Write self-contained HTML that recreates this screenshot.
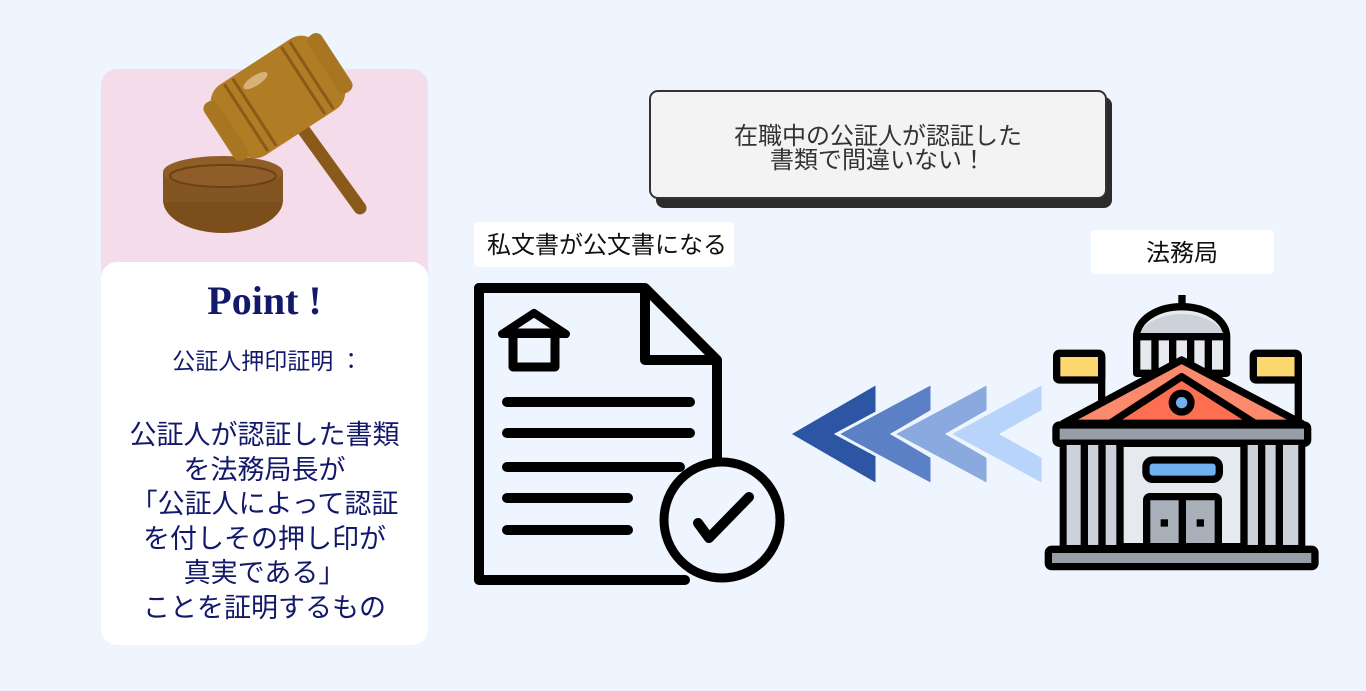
<!DOCTYPE html>
<html><head><meta charset="utf-8"><style>
*{margin:0;padding:0;box-sizing:border-box}
body{width:1366px;height:691px;background:#eef5fe;position:relative;overflow:hidden;font-family:"Liberation Sans","Noto Sans CJK JP",sans-serif}
.abs{position:absolute}
</style></head><body>
<div class="abs" style="left:101px;top:69px;width:327px;height:220px;background:#f5dcea;border-radius:16px 16px 0 0"></div>
<div class="abs" style="left:101px;top:262px;width:327px;height:383px;background:#fff;border-radius:16px"></div>
<div class="abs" style="left:101px;top:278px;width:327px;text-align:center;color:#12196a;font-family:'Liberation Serif',serif;font-weight:bold;font-size:40px;line-height:46px">Point !</div>
<div class="abs" style="left:104px;top:345px;width:327px;text-align:center;color:#12196a;font-size:23px;line-height:32px">公証人押印証明 ：</div>
<div class="abs" style="left:101px;top:418px;width:327px;text-align:center;color:#12196a;font-size:27px;line-height:34.5px;white-space:nowrap">公証人が認証した書類<br>を法務局長が<br>「公証人によって認証<br>を付しその押し印が<br>真実である」<br>ことを証明するもの</div>

<svg class="abs" style="left:0;top:0" width="1366" height="691">
<g>
<ellipse cx="223" cy="200" rx="60" ry="33" fill="#7c4e1c"/>
<rect x="163" y="172" width="120" height="30" fill="#835520"/>
<ellipse cx="223" cy="172" rx="60" ry="16" fill="#8f5e28"/>
<ellipse cx="223" cy="176" rx="53" ry="11" fill="none" stroke="#6b4216" stroke-width="2"/>
<line x1="300" y1="125" x2="360" y2="208" stroke="#8a5a1a" stroke-width="13" stroke-linecap="round"/>
<g transform="translate(278,97) rotate(-33)">
<rect x="-62" y="-42" width="124" height="84" rx="20" fill="#b07c24"/>
<rect x="-70" y="-34" width="16" height="68" rx="7" fill="#a87520"/>
<rect x="54" y="-34" width="16" height="68" rx="7" fill="#a87520"/>
<line x1="-38" y1="-40" x2="-38" y2="40" stroke="#8a5a18" stroke-width="3"/>
<line x1="-28" y1="-40" x2="-28" y2="40" stroke="#8a5a18" stroke-width="3"/>
<line x1="30" y1="-40" x2="30" y2="40" stroke="#8a5a18" stroke-width="3"/>
<line x1="40" y1="-40" x2="40" y2="40" stroke="#8a5a18" stroke-width="3"/>
<ellipse cx="-10" cy="-26" rx="14" ry="5" fill="#d8b07a"/>
</g>
</g>

<rect x="656" y="97" width="456" height="111" rx="8" fill="#2b2b2b"/>
<rect x="650" y="91" width="456" height="107" rx="8" fill="#f3f3f3" stroke="#333" stroke-width="2"/>
<text x="878" y="144" text-anchor="middle" font-size="24" fill="#333" font-family="Liberation Sans, Noto Sans CJK JP, sans-serif">在職中の公証人が認証した</text>
<text x="878" y="168" text-anchor="middle" font-size="24" fill="#333" font-family="Liberation Sans, Noto Sans CJK JP, sans-serif">書類で間違いない！</text>

<rect x="474" y="222" width="260" height="45" rx="4" fill="#fff"/>
<text x="607" y="253" text-anchor="middle" font-size="24" fill="#111" font-family="Liberation Sans, Noto Sans CJK JP, sans-serif">私文書が公文書になる</text>
<rect x="1091" y="230" width="183" height="44" rx="4" fill="#fff"/>
<text x="1182" y="261" text-anchor="middle" font-size="24" fill="#111" font-family="Liberation Sans, Noto Sans CJK JP, sans-serif">法務局</text>

<g fill="none" stroke="#000" stroke-width="10" stroke-linejoin="round" stroke-linecap="round">
<path d="M479 288 H645 L717 360 V460"/>
<path d="M479 288 V580 H685"/>
<path d="M645 292 V360 H713"/>
<path d="M502 334 L534 313 L566 334 Z" stroke-width="8"/>
<rect x="513" y="333" width="42" height="34" stroke-width="9"/>
<line x1="507" y1="402" x2="690" y2="402"/>
<line x1="507" y1="433" x2="690" y2="433"/>
<line x1="507" y1="467" x2="680" y2="467"/>
<line x1="507" y1="498" x2="628" y2="498"/>
<line x1="507" y1="530" x2="628" y2="530"/>
</g>
<circle cx="722" cy="520" r="58" fill="#eef5fe" stroke="#000" stroke-width="9"/>
<path d="M698 523 L709 538 L749 497" fill="none" stroke="#000" stroke-width="10" stroke-linecap="round" stroke-linejoin="round"/>

<g stroke="#eef5fe" stroke-width="3">
<polygon points="789,434 877,383 877,485" fill="#2c55a3"/>
<polygon points="837,434 932,383 932,411 893,434 932,457 932,485" fill="#5b80c5"/>
<polygon points="893,434 988,383 988,411 948,434 988,457 988,485" fill="#8aa9df"/>
<polygon points="949,434 1043,383 1043,411 1002,434 1043,457 1043,485" fill="#b8d4fb"/>
</g>

<g transform="translate(1040,290) scale(0.3333)" stroke="#000" stroke-width="22" stroke-linejoin="round">
<rect x="415" y="15" width="22" height="45" fill="#000" stroke="none"/>
<path d="M290 250 V140 A135 90 0 0 1 560 140 V250 Z" fill="#e6e9ee"/>
<path d="M300 130 A130 80 0 0 1 550 130 Z" fill="#cdd2da" stroke="none"/>
<line x1="290" y1="140" x2="560" y2="140"/>
<line x1="345" y1="140" x2="345" y2="240"/><line x1="398" y1="140" x2="398" y2="220"/><line x1="452" y1="140" x2="452" y2="220"/><line x1="505" y1="140" x2="505" y2="240"/>
<rect x="50" y="190" width="135" height="80" rx="8" fill="#fcd770"/>
<line x1="185" y1="200" x2="185" y2="400"/>
<rect x="640" y="190" width="135" height="80" rx="8" fill="#fcd770"/>
<line x1="775" y1="200" x2="775" y2="400"/>
<path d="M70 400 L425 210 L785 400 Z" fill="#fb8a6c"/>
<path d="M210 400 L425 260 L645 400 Z" fill="#fc6f50"/>
<circle cx="425" cy="338" r="28" fill="#6fb1ef"/>
<rect x="48" y="405" width="755" height="55" rx="10" fill="#979ea8"/>
<rect x="70" y="460" width="715" height="310" fill="#e6e9ee"/>
<rect x="80" y="465" width="170" height="300" fill="#cdd2da" stroke="none"/>
<rect x="605" y="465" width="170" height="300" fill="#cdd2da" stroke="none"/>
<line x1="133" y1="460" x2="133" y2="770"/><line x1="186" y1="460" x2="186" y2="770"/><line x1="240" y1="460" x2="240" y2="770"/>
<line x1="612" y1="460" x2="612" y2="770"/><line x1="665" y1="460" x2="665" y2="770"/><line x1="718" y1="460" x2="718" y2="770"/>
<rect x="318" y="510" width="220" height="58" rx="20" fill="#6fb1ef"/>
<rect x="320" y="620" width="215" height="150" rx="10" fill="#a9b0ba"/>
<line x1="427" y1="620" x2="427" y2="770"/>
<rect x="362" y="688" width="22" height="22" fill="#000" stroke="none"/>
<rect x="470" y="688" width="22" height="22" fill="#000" stroke="none"/>
<rect x="25" y="778" width="800" height="52" rx="10" fill="#979ea8"/>
</g>
</svg>
</body></html>
